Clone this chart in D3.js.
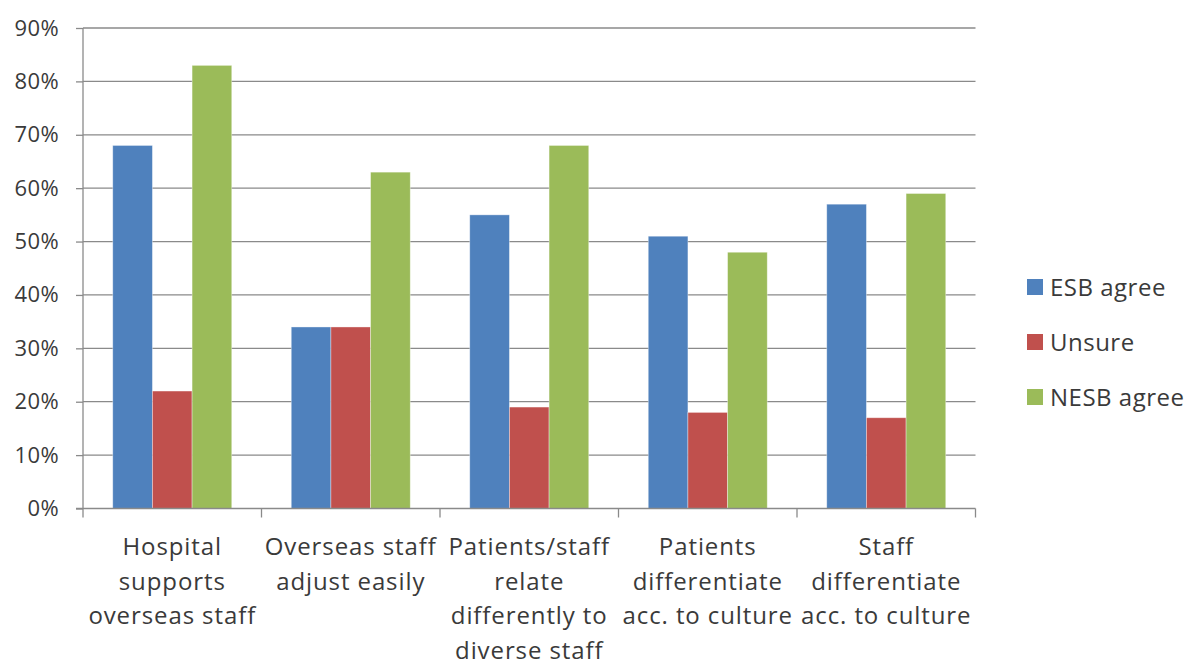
<html>
<head>
<meta charset="utf-8">
<style>
  body { margin: 0; background: #fff; }
  text { font-family: "Open Sans", sans-serif; fill: #3a3a3a; }
</style>
</head>
<body>
<svg width="1192" height="662"></svg>
<script src="https://d3js.org/d3.v7.min.js"></script>
<script>
// categories, each label already split the way the chart wraps it
var categories = ["hospital", "overseas", "relate", "patients", "staff"]
var categoryLines = [
  ["Hospital", "supports", "overseas staff"],
  ["Overseas staff", "adjust easily"],
  ["Patients/staff", "relate", "differently to", "diverse staff"],
  ["Patients", "differentiate", "acc. to culture"],
  ["Staff", "differentiate", "acc. to culture"]
]
var seriesNames = ["ESB agree", "Unsure", "NESB agree"]
var seriesColors = ["#4F81BD", "#C0504D", "#9BBB59"]
// percent values per series, in category order
var esbAgree  = [68, 34, 55, 51, 57]
var unsure    = [22, 34, 19, 18, 17]
var nesbAgree = [83, 63, 68, 48, 59]
var yTicks = [0, 10, 20, 30, 40, 50, 60, 70, 80, 90]

var seriesValues = [esbAgree, unsure, nesbAgree]

var svg = d3.select("svg")
var plotLeft = 83, plotRight = 975.5, plotTop = 28, plotBottom = 508.5

var x = d3.scaleBand().domain(categories).range([plotLeft, plotRight])
  .paddingInner(0).paddingOuter(0)
var y = d3.scaleLinear().domain([0, 90]).range([plotBottom, plotTop])
// excel gap width 150%: three bars + 1.5 bar of space in each category
var barW = x.bandwidth() / 4.5
var xs = d3.scaleBand().domain(seriesNames)
  .range([barW * 0.75, barW * 3.75])

// gridlines
svg.append("g").selectAll("line")
  .data(yTicks.filter(function (d) { return d > 0 }))
  .join("line")
  .attr("x1", plotLeft).attr("x2", plotRight)
  .attr("y1", function (d) { return y(d) }).attr("y2", function (d) { return y(d) })
  .attr("stroke", "#8a8a8a").attr("stroke-width", 1.3)

// bars
seriesValues.forEach(function (vals, si) {
  svg.append("g").selectAll("rect")
    .data(vals)
    .join("rect")
    .attr("x", function (d, i) { return x(categories[i]) + xs(seriesNames[si]) })
    .attr("width", xs.bandwidth())
    .attr("y", function (d) { return y(d) })
    .attr("height", function (d) { return y(0) - y(d) })
    .attr("fill", seriesColors[si])
    .attr("stroke", "rgba(255,255,255,0.45)")
    .attr("stroke-width", 0.8)
})

// y axis
var yAxis = svg.append("g")
  .attr("transform", "translate(" + plotLeft + ",0)")
  .call(d3.axisLeft(y).tickValues(yTicks).tickSize(7).tickPadding(17)
    .tickFormat(function (d) { return d + "%" }))
yAxis.select(".domain").attr("stroke", "#8a8a8a").attr("stroke-width", 1.3)
  .attr("d", "M0," + (plotBottom + 0.5) + "V" + plotTop)
yAxis.selectAll(".tick line").attr("stroke", "#8a8a8a").attr("stroke-width", 1.3)
yAxis.selectAll(".tick text")
  .style("font-family", "'Open Sans', sans-serif")
  .style("font-size", "22px").style("letter-spacing", "0.4px")
  .attr("fill", "#3a3a3a")

// x axis with boundary ticks
var xAxisG = svg.append("g")
xAxisG.append("line")
  .attr("x1", plotLeft - 7).attr("x2", plotRight)
  .attr("y1", plotBottom).attr("y2", plotBottom)
  .attr("stroke", "#8a8a8a").attr("stroke-width", 1.3)
var bounds = categories.map(function (c) { return x(c) }).concat([plotRight])
xAxisG.selectAll("line.tk")
  .data(bounds)
  .join("line").attr("class", "tk")
  .attr("x1", function (d) { return d }).attr("x2", function (d) { return d })
  .attr("y1", plotBottom).attr("y2", plotBottom + 9)
  .attr("stroke", "#8a8a8a").attr("stroke-width", 1.3)

// category labels
var labels = svg.append("g").selectAll("text")
  .data(categories)
  .join("text")
  .attr("text-anchor", "middle")
  .style("font-size", "24px")
  .style("letter-spacing", "0.9px")
labels.each(function (c, i) {
  var t = d3.select(this)
  categoryLines[i].forEach(function (line, li) {
    t.append("tspan")
      .attr("x", x(c) + x.bandwidth() / 2)
      .attr("y", 555 + li * 34.5)
      .text(line)
  })
})

// legend
var legend = svg.append("g").selectAll("g")
  .data(seriesNames)
  .join("g")
  .attr("transform", function (d, i) { return "translate(1027," + (287 + i * 55) + ")" })
legend.append("rect")
  .attr("x", 0).attr("y", -8).attr("width", 16).attr("height", 16)
  .attr("fill", function (d, i) { return seriesColors[i] })
legend.append("text")
  .attr("x", 23).attr("y", 8.5)
  .style("font-size", "24px")
  .style("letter-spacing", "0.5px")
  .text(function (d) { return d })
</script>
</body>
</html>
